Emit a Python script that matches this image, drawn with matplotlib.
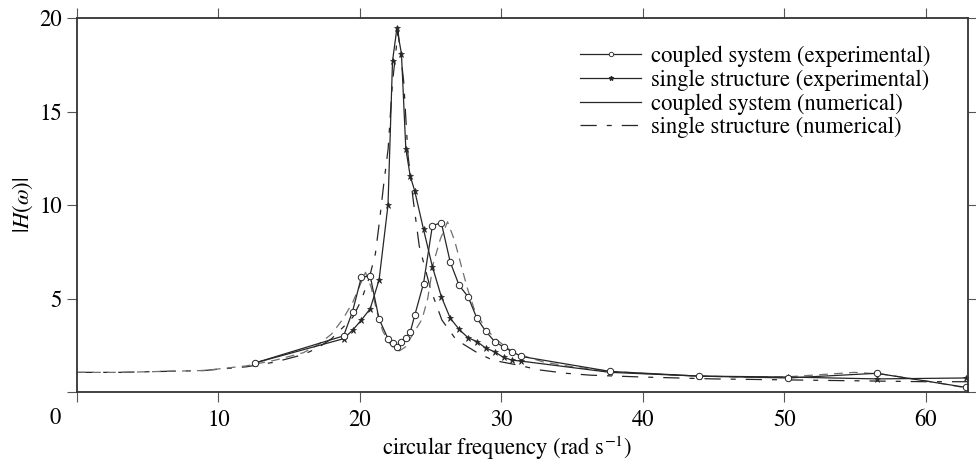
import matplotlib.pyplot as plt
from matplotlib.lines import Line2D
from matplotlib import rc

rc('font', **{'family': 'STIXGeneral', 'size': 16.3})
rc('mathtext', fontset='stix')

# experimental frequencies (rad/s)
freq_exp = [12.57, 18.85, 19.48, 20.11, 20.73, 21.36, 21.99, 22.31, 22.62, 22.94,
            23.25, 23.56, 23.88, 24.50, 25.13, 25.76, 26.39, 27.02, 27.65, 28.27,
            28.90, 29.53, 30.16, 30.79, 31.42, 37.70, 43.98, 50.27, 56.55, 62.83]
coupled_exp = [1.55, 3.0, 4.3, 6.15, 6.2, 3.9, 2.85, 2.6, 2.4, 2.7,
               2.9, 3.2, 4.1, 5.8, 8.9, 9.05, 6.95, 5.7, 5.1, 3.95,
               3.25, 2.7, 2.4, 2.15, 1.9, 1.1, 0.85, 0.75, 1.0, 0.25]
single_exp = [1.55, 2.85, 3.3, 3.85, 4.45, 6.0, 10.0, 17.7, 19.45, 18.1,
              13.0, 11.55, 10.75, 8.7, 6.7, 5.1, 3.95, 3.35, 2.9, 2.7,
              2.35, 2.15, 1.85, 1.7, 1.65, 1.05, 0.85, 0.8, 0.7, 0.75]

# numerical curves
freq_num_coupled = [0, 3, 6, 9, 12, 14, 16, 17, 18, 18.8, 19.5, 20.0, 20.4, 20.8,
                    21.2, 21.6, 22.0, 22.4, 22.8, 23.2, 23.6, 24.0, 24.4, 24.8,
                    25.2, 25.7, 26.2, 26.7, 27.1, 27.6, 28.1, 28.8, 29.5, 30.5,
                    31.5, 33, 35, 37.7, 41, 44, 47, 50, 53, 55, 57, 60, 63]
coupled_num = [1.05, 1.05, 1.1, 1.15, 1.4, 1.7, 2.1, 2.5, 3.1, 3.9, 4.8, 5.7, 6.4, 5.6,
               4.3, 3.3, 2.7, 2.35, 2.2, 2.4, 2.9, 3.4, 3.9, 5.0,
               6.9, 8.2, 9.1, 8.1, 6.95, 5.55, 4.4, 3.5, 2.9, 2.3,
               1.95, 1.6, 1.35, 1.1, 0.95, 0.85, 0.8, 0.8, 0.95, 1.05, 0.95, 0.6, 0.2]
freq_num_single = [0, 3, 6, 9, 12, 14, 16, 17, 18, 19, 19.5, 20.1, 20.7, 21.1, 21.4,
                   21.7, 22.0, 22.3, 22.7, 23.1, 23.4, 23.75, 24.2, 25.0, 25.8,
                   26.8, 28.3, 29.4, 31.1, 32.7, 34.6, 36.3, 40, 45, 50, 55, 60, 63]
single_num = [1.05, 1.05, 1.1, 1.15, 1.35, 1.6, 2.0, 2.35, 2.85, 3.6, 4.0, 4.9, 6.2, 7.4, 9.2,
              11.2, 13.0, 16.5, 19.3, 16.6, 12.7, 10.4, 7.8, 5.5, 3.85,
              2.8, 2.1, 1.7, 1.45, 1.18, 1.0, 0.9, 0.8, 0.7, 0.65, 0.6, 0.55, 0.55]

xticks = [0, 10, 20, 30, 40, 50, 60]
yticks = [0, 5, 10, 15, 20]

ink = '#262626'
num_dash = (13, 8, 4, 8)

fig = plt.figure(figsize=(9.76, 4.63), dpi=100)
ax = fig.add_axes([77/976, 1-392/463, (968-77)/976, (392-18)/463])

ax.plot(freq_num_single, single_num, color=ink, lw=0.9, dashes=num_dash)
ax.plot(freq_num_coupled, coupled_num, color='#707070', lw=0.9, dashes=(7, 5))
ax.plot(freq_exp, single_exp, color=ink, lw=0.9, marker='*', ms=4.5,
        mfc=ink, mec=ink, mew=0.5)
ax.plot(freq_exp, coupled_exp, color=ink, lw=0.9, marker='o', ms=4.6,
        mfc='white', mec=ink, mew=0.7)

ax.set_xlim(0, 63)
ax.set_ylim(0, 20)
ax.set_xticks(xticks, [''] + [str(t) for t in xticks[1:]])
ax.set_yticks(yticks, [''] + [str(t) for t in yticks[1:]])
ax.tick_params(direction='out', length=7, width=0.8, color='#555555',
               top=True, right=True, labelsize=16.3)
ax.tick_params(axis='x', pad=6)
ax.tick_params(axis='y', pad=4)
for sp in ax.spines.values():
    sp.set_linewidth(1.3)
    sp.set_color('#333333')

# shared origin label
ax.annotate('0', xy=(0, 0), xycoords='data', xytext=(-22, -16),
            textcoords='offset pixels', ha='center', va='top', fontsize=16.3)

ax.set_xlabel(r'circular frequency (rad s$^{-1}$)', fontsize=16.3, labelpad=2, x=0.483)
ax.set_ylabel(r'$|H(\omega)|$', fontsize=16.3, labelpad=3)

handles = [
    Line2D([], [], color=ink, lw=0.9, marker='o', ms=3.2, mfc='white', mec=ink, mew=0.6),
    Line2D([], [], color=ink, lw=0.9, marker='*', ms=3.2, mfc=ink, mec=ink),
    Line2D([], [], color=ink, lw=0.9),
    Line2D([], [], color=ink, lw=0.9, dashes=num_dash),
]
labels = ['coupled system (experimental)', 'single structure (experimental)',
          'coupled system (numerical)', 'single structure (numerical)']
ax.legend(handles, labels, loc='upper left', bbox_to_anchor=(580/976, 1-46/463),
          bbox_transform=fig.transFigure, frameon=False, borderpad=0, borderaxespad=0,
          handlelength=2.7, handletextpad=0.45, labelspacing=0.1, numpoints=1,
          fontsize=16.3)

plt.savefig('out.png', dpi=100)
